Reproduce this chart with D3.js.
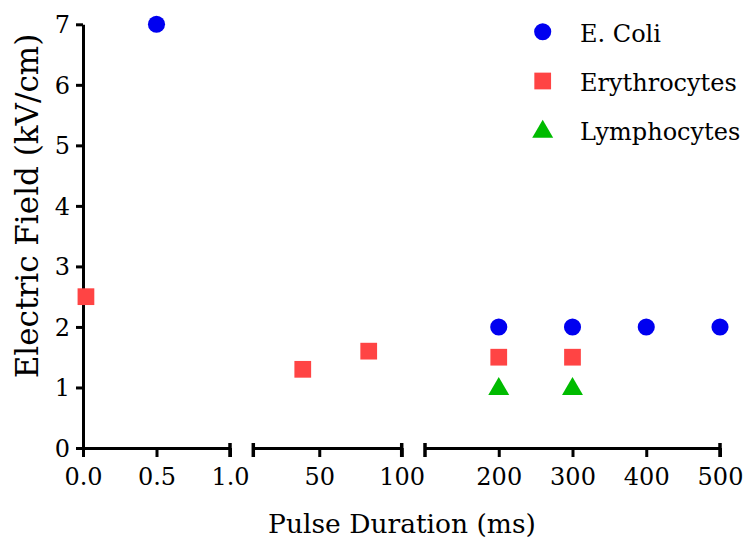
<!DOCTYPE html>
<html>
<head>
<meta charset="utf-8">
<script src="https://cdn.jsdelivr.net/npm/d3@7"></script>
<style>
  html, body { margin: 0; padding: 0; background: #fff; }
  svg { display: block; }
</style>
</head>
<body>
<svg id="chart" width="744" height="539"></svg>
<script>
// ---- data ----
const seriesNames = ["E. Coli", "Erythrocytes", "Lymphocytes"];
const ecoliX = [0.5, 200, 300, 400, 500];
const ecoliY = [7, 2, 2, 2, 2];
const erythX = [0.02, 40, 80, 200, 300];
const erythY = [2.5, 1.3, 1.6, 1.5, 1.5];
const lymphX = [200, 300];
const lymphY = [1, 1];
const yTicks = [0, 1, 2, 3, 4, 5, 6, 7];
const seg1Ticks = [0, 0.5, 1.0];
const seg2Ticks = [50, 100];
const seg3Ticks = [200, 300, 400, 500];
const xTitle = "Pulse Duration (ms)";
const yTitle = "Electric Field (kV/cm)";

const svg = d3.select("#chart");
const colors = ["#0000f0", "#ff4444", "#00bb00"];
const FONT = "DejaVu Serif";

// ---- scales ----
const y = d3.scaleLinear().domain([0, 7]).range([448, 24.3]);
const x1 = d3.scaleLinear().domain([0, 1]).range([83, 230]);
const x2 = d3.scaleLinear().domain([10, 100]).range([253.3, 401.7]);
const x3 = d3.scaleLinear().domain([100, 500]).range([425, 720]);
function xPos(v) {
  if (v <= 1) return x1(v);
  if (v <= 100) return x2(v);
  return x3(v);
}

const axisY0 = y(0);
const tickFont = 24;

function styleAxis(g) {
  g.attr("font-family", FONT).attr("font-size", tickFont);
  g.selectAll("path.domain").attr("stroke", "#000").attr("stroke-width", 3);
  g.selectAll(".tick line").attr("stroke", "#000").attr("stroke-width", 3);
  g.selectAll(".tick text").attr("fill", "#000");
}

// y axis
const gy = svg.append("g").attr("transform", "translate(83,0)")
  .call(d3.axisLeft(y).tickValues(yTicks).tickSize(7).tickSizeOuter(0).tickPadding(6).tickFormat(d3.format("d")));
styleAxis(gy);
gy.selectAll(".tick text").attr("dy", "0.35em");

// x axis segments
const segs = [
  {scale: x1, ticks: seg1Ticks, fmt: d3.format(".1f"), capStart: false, capEnd: true},
  {scale: x2, ticks: seg2Ticks, fmt: d3.format("d"), capStart: true, capEnd: true},
  {scale: x3, ticks: seg3Ticks, fmt: d3.format("d"), capStart: true, capEnd: true}
];
segs.forEach(s => {
  const g = svg.append("g").attr("transform", `translate(0,${axisY0})`)
    .call(d3.axisBottom(s.scale).tickValues(s.ticks).tickSize(9).tickSizeOuter(0).tickPadding(11).tickFormat(s.fmt));
  styleAxis(g);
  const r = s.scale.range();
  const caps = [];
  if (s.capStart) caps.push(r[0]);
  if (s.capEnd) caps.push(r[1]);
  g.selectAll("line.cap").data(caps).enter().append("line").attr("class", "cap")
    .attr("x1", d => d).attr("x2", d => d).attr("y1", -5).attr("y2", 9)
    .attr("stroke", "#000").attr("stroke-width", 3.5);
});

// ---- marks ----
const sym = [d3.symbolCircle, d3.symbolSquare, d3.symbolTriangle];
const symSize = [230, 280, 190];
const series = [
  {xs: ecoliX, ys: ecoliY},
  {xs: erythX, ys: erythY},
  {xs: lymphX, ys: lymphY}
];
series.forEach((s, i) => {
  const pts = s.xs.map((xv, j) => ({x: xv, y: s.ys[j]}));
  svg.append("g").selectAll("path").data(pts).enter().append("path")
    .attr("d", d3.symbol().type(sym[i]).size(symSize[i]))
    .attr("transform", d => `translate(${xPos(d.x)},${y(d.y) + (i === 2 ? 1.5 : 0)})`)
    .attr("fill", colors[i]);
});

// ---- legend ----
const legend = svg.append("g");
seriesNames.forEach((name, i) => {
  const cy = 31.7 + i * 49.3;
  legend.append("path")
    .attr("d", d3.symbol().type(sym[i]).size(symSize[i]))
    .attr("transform", `translate(542.7,${cy + (i === 2 ? 1.5 : 0)})`)
    .attr("fill", colors[i]);
  legend.append("text").attr("x", 580).attr("y", cy + 10)
    .attr("font-family", FONT).attr("font-size", 24).attr("fill", "#000").text(name);
});

// ---- titles ----
svg.append("text").attr("x", 402).attr("y", 533).attr("font-family", FONT)
  .attr("text-anchor", "middle").attr("font-size", 26.5).attr("fill", "#000").text(xTitle);
svg.append("text").attr("transform", "translate(38,206) rotate(-90)").attr("font-family", FONT)
  .attr("text-anchor", "middle").attr("font-size", 31).attr("fill", "#000").text(yTitle);
</script>
</body>
</html>
